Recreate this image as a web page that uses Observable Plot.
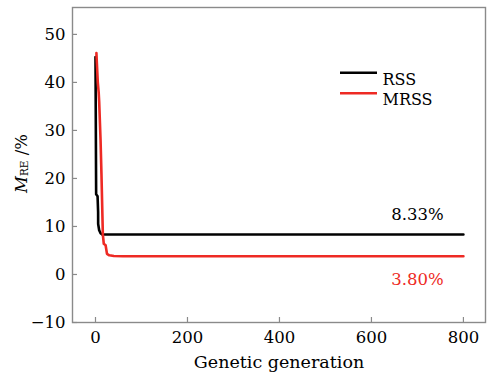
<!DOCTYPE html>
<html>
<head>
<meta charset="utf-8">
<script src="https://cdn.jsdelivr.net/npm/d3@7"></script>
<script src="https://cdn.jsdelivr.net/npm/@observablehq/plot@0.6"></script>
<style>
  html, body { margin: 0; padding: 0; background: #fff; }
  #chart svg { display: block; }
</style>
</head>
<body>
<div id="chart"></div>
<script>
// Convergence of the mean relative error over genetic generations
const rssGen  = [0, 1.4, 4.5, 5.7, 5.8, 8, 11, 14.5, 800];
const rssMre  = [45.3, 16.7, 16.3, 13, 10.5, 9.2, 8.6, 8.33, 8.33];
const mrssGen = [2, 3, 5, 7, 8, 11, 13, 16, 18, 22, 25, 30, 40, 60, 800];
const mrssMre = [46.1, 44, 40, 37.8, 36, 28, 20.8, 8.3, 6.4, 6.1, 4.3, 4.0, 3.85, 3.8, 3.8];

const seriesNames  = ["RSS", "MRSS"];
const seriesColors = ["#000000", "#ee2a24"];
const xTicks = [0, 200, 400, 600, 800];
const yTicks = [-10, 0, 10, 20, 30, 40, 50];
const labelGen = 700;

const rows = [
  ...rssGen.map((g, i) => ({series: "RSS", gen: g, mre: rssMre[i]})),
  ...mrssGen.map((g, i) => ({series: "MRSS", gen: g, mre: mrssMre[i]}))
];
const finals = [
  {series: "RSS", value: rssMre[rssMre.length - 1]},
  {series: "MRSS", value: mrssMre[mrssMre.length - 1]}
];

const W = 488, H = 384;
const mL = 72, mR = 3, mT = 7, mB = 62;
const innerW = W - mL - mR, innerH = H - mT - mB;
const axisGrey = "#8a8a8a";
const font = "DejaVu Serif";
const fs = 16.5;

const plot = Plot.plot({
  width: W, height: H,
  marginLeft: mL, marginRight: mR, marginTop: mT, marginBottom: mB,
  style: {fontFamily: font, fontSize: fs + "px", color: "#000", background: "#fff"},
  x: {domain: [-50, 848]},
  y: {domain: [-10, 55.6]},
  color: {domain: seriesNames, range: seriesColors},
  marks: [
    Plot.frame({stroke: axisGrey, strokeWidth: 1.4}),
    // inward tick marks
    Plot.tickX(xTicks, {x: d => d, stroke: axisGrey, strokeWidth: 1.2, insetTop: innerH - 5}),
    Plot.tickY(yTicks, {y: d => d, stroke: axisGrey, strokeWidth: 1.2, insetRight: innerW - 5}),
    Plot.axisX(xTicks, {tickSize: 0, tickPadding: 9, label: null, fontSize: fs}),
    Plot.axisY(yTicks, {tickSize: 0, tickPadding: 7, label: null, fontSize: fs,
      tickFormat: d => d < 0 ? "\u2212" + Math.abs(d) : String(d)}),
    Plot.text(["Genetic generation"], {frameAnchor: "bottom", dy: 45, fontSize: 17.5}),
    Plot.line(rows, {x: "gen", y: "mre", z: "series", stroke: "series", strokeWidth: 2.6}),
    // final-value annotations
    Plot.text(finals.filter(d => d.series === "RSS"), {
      x: () => labelGen, y: "value", text: d => d.value.toFixed(2) + "%",
      dy: -20, fill: seriesColors[0], fontSize: fs}),
    Plot.text(finals.filter(d => d.series === "MRSS"), {
      x: () => labelGen, y: "value", text: d => d.value.toFixed(2) + "%",
      dy: 23, fill: seriesColors[1], fontSize: fs}),
    // legend
    ...seriesNames.flatMap((name, i) => [
      Plot.ruleY([0], {stroke: seriesColors[i],
        render: () => {
          const y = mT + 65.7 + i * 20.6;
          const g = d3.create("svg:g");
          g.append("line").attr("x1", 340).attr("x2", 377).attr("y1", y).attr("y2", y)
            .attr("stroke", seriesColors[i]).attr("stroke-width", 2.4);
          return g.node();
        }}),
      Plot.text([name], {frameAnchor: "top-left", dx: 310, dy: 65.7 + i * 20.6,
        textAnchor: "start", fontSize: 16})
    ])
  ]
});

// y-axis title with italic M and subscript RE
const svg = d3.select(plot);
const title = svg.append("text")
  .attr("transform", `translate(22,${mT + innerH / 2 - 1}) rotate(-90)`)
  .attr("text-anchor", "middle")
  .attr("dominant-baseline", "middle")
  .attr("font-size", fs)
  .attr("fill", "#000");
title.append("tspan").attr("font-style", "italic").text("M");
title.append("tspan").attr("font-size", 10.5).attr("dy", 3).text("RE");
title.append("tspan").attr("dy", -3).text(" /%");

// serif face on every text element
svg.selectAll("text")
  .attr("font-family", font)
  .style("font-family", `"${font}", serif`);

document.getElementById("chart").appendChild(plot);
</script>
</body>
</html>
